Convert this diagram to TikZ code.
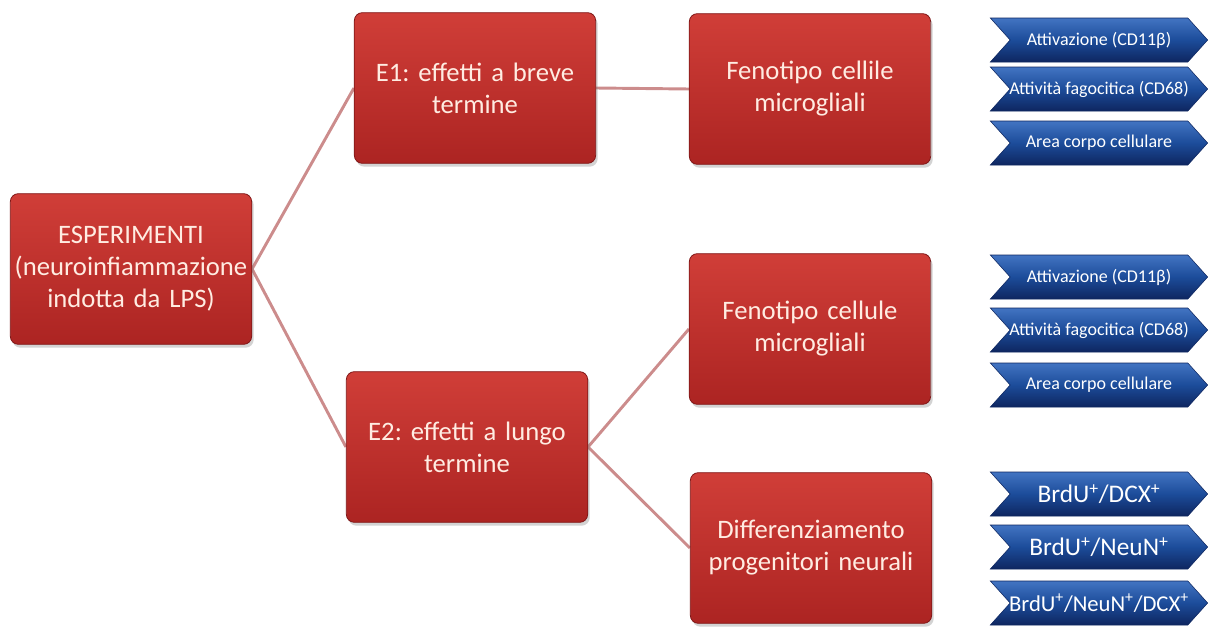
\documentclass[tikz,border=0pt]{standalone}
\usepackage{fontspec}
\setmainfont{Carlito}
\usepackage{tikz}
\usetikzlibrary{shapes.symbols,shadows,backgrounds,positioning}
\usepackage{xcolor}
\definecolor{boxredtop}{RGB}{208,62,56}
\definecolor{boxredbot}{RGB}{172,36,34}
\definecolor{boxedge}{RGB}{128,24,24}
\definecolor{boxtext}{RGB}{255,236,226}
\definecolor{linkpink}{RGB}{204,140,140}
\definecolor{tagbluetop}{RGB}{66,116,194}
\definecolor{tagblue}{RGB}{28,76,154}
\definecolor{tagbluebot}{RGB}{14,38,96}
\newcommand{\tagtxt}[1]{\makebox[120pt]{#1}}
\frenchspacing

\begin{document}
\begin{tikzpicture}[
    x=0.75pt, y=-0.75pt,
    box/.style={rectangle, rounded corners=6pt, draw=boxedge, line width=0.6pt,
                top color=boxredtop, bottom color=boxredbot,
                minimum width=181pt, minimum height=113pt, text width=179pt,
                inner xsep=1pt, align=center,
                font=\fontsize{20}{24}\selectfont, text=boxtext,
                drop shadow={opacity=0.35, shadow xshift=1.5pt, shadow yshift=-2.5pt}},
    tag/.style={signal, signal from=west, signal to=east, signal pointer angle=96,
                draw=tagbluebot, top color=tagbluetop, bottom color=tagbluebot, middle color=tagblue,
                minimum width=163pt, minimum height=33pt, inner sep=0pt,
                font=\fontsize{13.5}{16}\selectfont, text=white},
    bigtag/.style={tag, font=\fontsize{19}{21}\selectfont},
    link/.style={line width=2.2pt, color=linkpink}
]
\useasboundingbox (0,0) rectangle (1208,628);

% experiments and their two branches
\node[box] (exp) at (131,269) {ESPERIMENTI\\(neuroinfiammazione\\indotta da LPS)};
\node[box] (e1) at (475,88) {E1: effetti a breve\\termine};
\node[box] (e2) at (467,447) {E2: effetti a lungo\\termine};

% what is measured
\node[box] (e1-fen) at (810,89) {Fenotipo cellile\\microgliali};
\node[box] (e2-fen) at (810,329) {Fenotipo cellule\\microgliali};
\node[box] (e2-diff) at (811,548) {Differenziamento\\progenitori neurali};

% markers (E1)
\node[tag] (e1-att) at (1099,40) {\tagtxt{Attivazione (CD11β)}};
\node[tag] (e1-fag) at (1099,89) {\tagtxt{Attività fagocitica (CD68)}};
\node[tag] (e1-area) at (1099,143) {\tagtxt{Area corpo cellulare}};

% markers (E2)
\node[tag] (e2-att) at (1099,277) {\tagtxt{Attivazione (CD11β)}};
\node[tag] (e2-fag) at (1099,330) {\tagtxt{Attività fagocitica (CD68)}};
\node[tag] (e2-area) at (1099,385) {\tagtxt{Area corpo cellulare}};

\node[bigtag] (e2-dcx) at (1099,494) {\tagtxt{BrdU\textsuperscript{+}/DCX\textsuperscript{+}}};
\node[bigtag] (e2-neun) at (1099,547) {\tagtxt{BrdU\textsuperscript{+}/NeuN\textsuperscript{+}}};
\node[bigtag, font=\fontsize{17}{20}\selectfont] (e2-all) at (1099,603) {\tagtxt{BrdU\textsuperscript{+}/NeuN\textsuperscript{+}/DCX\textsuperscript{+}}};

% connectors
\begin{scope}[on background layer]
\draw[link] (exp.east) -- (e1.west);
\draw[link] (exp.east) -- (e2.west);
\draw[link] (e1.east) -- (e1-fen.west);
\draw[link] (e2.east) -- (e2-fen.west);
\draw[link] (e2.east) -- (e2-diff.west);
\end{scope}

\end{tikzpicture}
\end{document}
